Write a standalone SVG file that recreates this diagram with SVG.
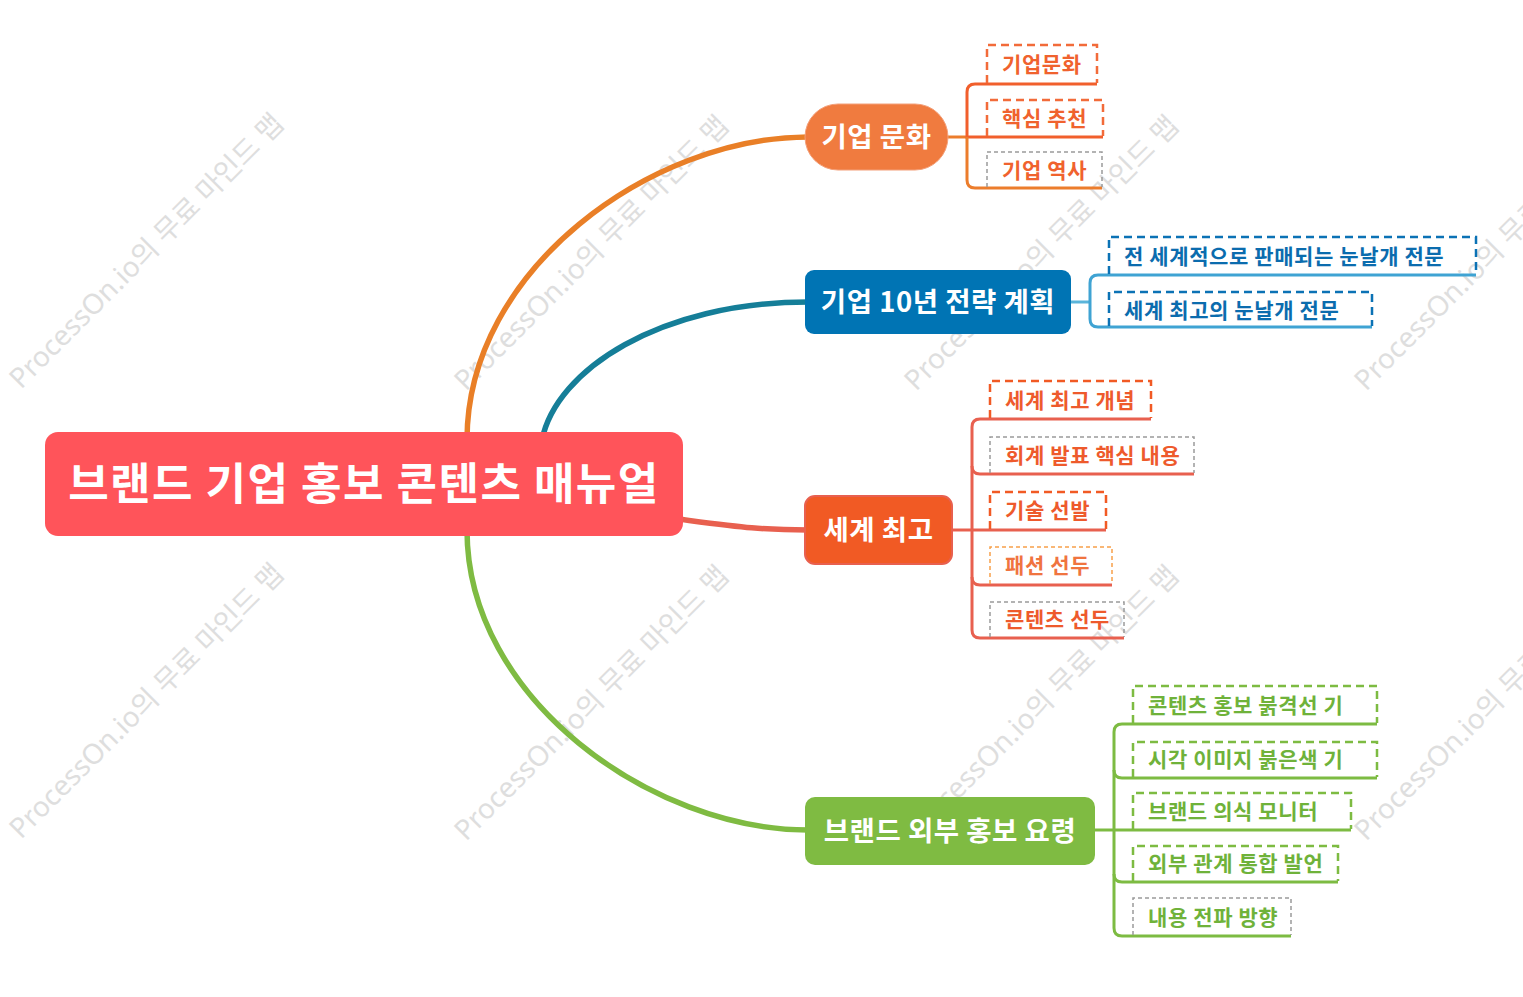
<svg xmlns="http://www.w3.org/2000/svg" width="1523" height="997" viewBox="0 0 1523 997">
<style>
.wm{font-family:"Noto Sans","Noto Sans CJK KR",sans-serif;font-size:28px;fill:#DEDEDE}
.t{font-family:"Noto Sans CJK KR","Noto Sans",sans-serif;font-weight:700}
.root{font-size:44px;fill:#fff;letter-spacing:1.5px}
.main{font-size:27.5px;fill:#fff;letter-spacing:0.5px}
.sub{font-size:21px;letter-spacing:0.6px}
.curve{fill:none;stroke-width:5.5;stroke-linecap:round}
.sc{fill:none;stroke-width:3;stroke-linecap:butt}
.bx{fill:none}
.heavy{stroke-width:2.5;stroke-dasharray:8 5}
.thin{stroke-width:1.5;stroke-dasharray:4 3}
.grey{stroke:#9A9A9A}
</style>
<rect width="1523" height="997" fill="#fff"/>
<g id="watermark">
<text class="wm" transform="translate(21,390) rotate(-45)">ProcessOn.io의 무료 마인드 맵</text>
<text class="wm" transform="translate(466,392) rotate(-45)">ProcessOn.io의 무료 마인드 맵</text>
<text class="wm" transform="translate(916,392) rotate(-45)">ProcessOn.io의 무료 마인드 맵</text>
<text class="wm" transform="translate(1366,392) rotate(-45)">ProcessOn.io의 무료 마인드 맵</text>
<text class="wm" transform="translate(21,840) rotate(-45)">ProcessOn.io의 무료 마인드 맵</text>
<text class="wm" transform="translate(466,842) rotate(-45)">ProcessOn.io의 무료 마인드 맵</text>
<text class="wm" transform="translate(916,842) rotate(-45)">ProcessOn.io의 무료 마인드 맵</text>
<text class="wm" transform="translate(1366,842) rotate(-45)">ProcessOn.io의 무료 마인드 맵</text>
</g>
<g id="connectors">
<path class="curve" stroke="#E97F27" d="M467,440 C467,269 652,137 808,137"/>
<path class="curve" stroke="#157E98" d="M542,440 C556,370 660,302 808,302"/>
<path class="curve" stroke="#E8604F" d="M678,519 C740,527 760,530 808,530"/>
<path class="curve" stroke="#7FBB42" d="M467,530 C467,699 652,830 808,830"/>
<!-- branch 1 -->
<path class="sc" stroke="#EC7D2C" d="M946,137 H967"/>
<path class="sc" stroke="#F15F2C" d="M1097,84 H975 Q967,84 967,92 V137 H1103"/>
<path class="sc" stroke="#EC7D2C" d="M967,137 V180 Q967,188 975,188 H1102"/>
<!-- branch 2 -->
<path class="sc" stroke="#5BB5DA" d="M1069,302 H1090"/>
<path class="sc" stroke="#3FA3D3" d="M1476,275 H1098 Q1090,275 1090,283 V319 Q1090,327 1098,327 H1372"/>
<!-- branch 3 -->
<path class="sc" stroke="#E8604F" d="M951,530 H972"/>
<path class="sc" stroke="#E8604F" d="M1151,419 H980 Q972,419 972,427 V630 Q972,638 980,638 H1124"/>
<path class="sc" stroke="#E8604F" d="M972,466 Q972,474 980,474 H1194"/>
<path class="sc" stroke="#E8604F" d="M972,530 H1106"/>
<path class="sc" stroke="#E8604F" d="M972,577 Q972,585 980,585 H1112"/>
<!-- branch 4 -->
<path class="sc" stroke="#7DBB42" d="M1094,830 H1114"/>
<path class="sc" stroke="#7DBB42" d="M1377,724 H1122 Q1114,724 1114,732 V928 Q1114,936 1122,936 H1291"/>
<path class="sc" stroke="#7DBB42" d="M1114,770 Q1114,778 1122,778 H1377"/>
<path class="sc" stroke="#7DBB42" d="M1114,830 H1351"/>
<path class="sc" stroke="#7DBB42" d="M1114,874 Q1114,882 1122,882 H1338"/>
</g>
<g id="root">
<rect x="45" y="432" width="638" height="104" rx="13" fill="#FF545A"/>
<text class="t root" x="364" y="500" text-anchor="middle">브랜드 기업 홍보 콘텐츠 매뉴얼</text>
</g>
<g id="n1">
<rect x="805" y="104" width="143" height="66" rx="33" fill="#F07B3F" stroke="#F3A07A" stroke-width="1"/>
<text class="t main" x="876.5" y="147" text-anchor="middle">기업 문화</text>
</g>
<g id="n2">
<rect x="805" y="270" width="266" height="64" rx="9" fill="#0074B4"/>
<text class="t main" x="938" y="312" text-anchor="middle">기업 10년 전략 계획</text>
</g>
<g id="n3">
<rect x="805" y="496" width="147" height="68" rx="10" fill="#F15A24" stroke="#E8604F" stroke-width="2"/>
<text class="t main" x="878.5" y="540" text-anchor="middle">세계 최고</text>
</g>
<g id="n4">
<rect x="805" y="797" width="290" height="68" rx="10" fill="#7FBB42"/>
<text class="t main" x="950" y="841" text-anchor="middle">브랜드 외부 홍보 요령</text>
</g>
<g id="n1a"><path class="bx heavy" stroke="#F26B3A" d="M987,83 V45 H1097 V83"/><text class="t sub" fill="#F0622E" x="1002" y="72">기업문화</text></g>
<g id="n1b"><path class="bx heavy" stroke="#F26B3A" d="M987,136 V100 H1103 V136"/><text class="t sub" fill="#F0622E" x="1002" y="126">핵심 추천</text></g>
<g id="n1c"><path class="bx thin grey" d="M987,187 V152 H1102 V187"/><text class="t sub" fill="#F0622E" x="1002" y="178">기업 역사</text></g>
<g id="n2a"><path class="bx heavy" stroke="#0B72B5" d="M1109,274 V237 H1476 V274"/><text class="t sub" fill="#0B6CAE" x="1124" y="264">전 세계적으로 판매되는 눈날개 전문</text></g>
<g id="n2b"><path class="bx heavy" stroke="#0B72B5" d="M1109,326 V292 H1372 V326"/><text class="t sub" fill="#0B6CAE" x="1124" y="318">세계 최고의 눈날개 전문</text></g>
<g id="n3a"><path class="bx heavy" stroke="#F15A24" d="M990,418 V381 H1151 V418"/><text class="t sub" fill="#EE5A2C" x="1005" y="408">세계 최고 개념</text></g>
<g id="n3b"><path class="bx thin grey" d="M990,473 V437 H1194 V473"/><text class="t sub" fill="#EE5A2C" x="1005" y="463">회계 발표 핵심 내용</text></g>
<g id="n3c"><path class="bx heavy" stroke="#F15A24" d="M990,529 V492 H1106 V529"/><text class="t sub" fill="#EE5A2C" x="1005" y="518">기술 선발</text></g>
<g id="n3d"><path class="bx thin" stroke="#F7A04A" d="M990,584 V547 H1112 V584"/><text class="t sub" fill="#F0743F" x="1005" y="573">패션 선두</text></g>
<g id="n3e"><path class="bx thin grey" d="M990,637 V602 H1124 V637"/><text class="t sub" fill="#EE5A2C" x="1005" y="627">콘텐츠 선두</text></g>
<g id="n4a"><path class="bx heavy" stroke="#7DBB42" d="M1133,723 V686 H1377 V723"/><text class="t sub" fill="#6FB23A" x="1148" y="713">콘텐츠 홍보 붉격선 기</text></g>
<g id="n4b"><path class="bx heavy" stroke="#7DBB42" d="M1133,777 V742 H1377 V777"/><text class="t sub" fill="#6FB23A" x="1148" y="767">시각 이미지 붉은색 기</text></g>
<g id="n4c"><path class="bx heavy" stroke="#7DBB42" d="M1133,829 V793 H1351 V829"/><text class="t sub" fill="#6FB23A" x="1148" y="819">브랜드 의식 모니터</text></g>
<g id="n4d"><path class="bx heavy" stroke="#7DBB42" d="M1133,881 V846 H1338 V881"/><text class="t sub" fill="#6FB23A" x="1148" y="871">외부 관계 통합 발언</text></g>
<g id="n4e"><path class="bx thin grey" d="M1133,935 V898 H1291 V935"/><text class="t sub" fill="#6FB23A" x="1148" y="925">내용 전파 방향</text></g>
</svg>
